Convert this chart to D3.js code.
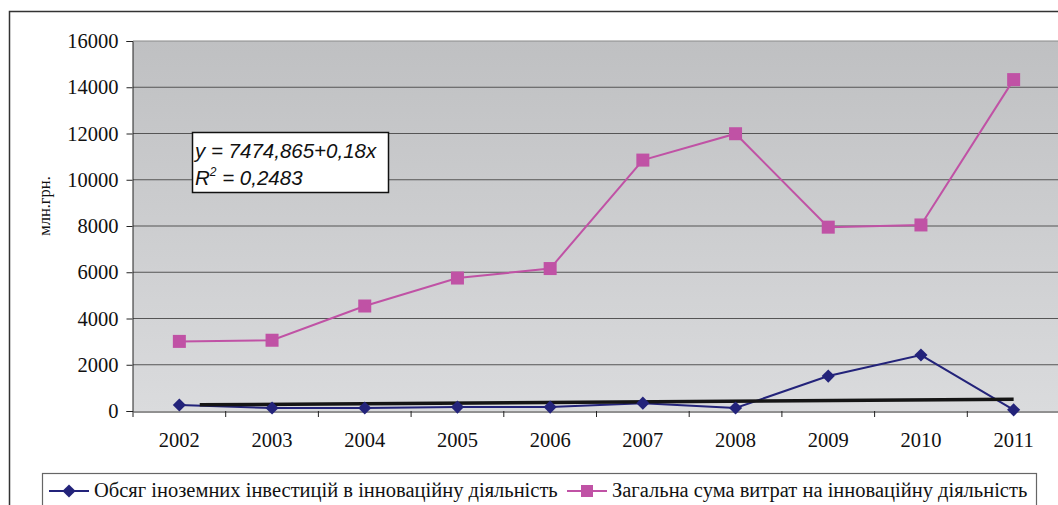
<!DOCTYPE html>
<html>
<head>
<meta charset="utf-8">
<script src="https://cdn.jsdelivr.net/npm/d3@7"></script>
<style>
  body { margin: 0; background: #fff; }
  svg { display: block; }
  .serif { font-family: "Liberation Serif", "Times New Roman", "DejaVu Serif", serif; }
</style>
</head>
<body>
<div id="chart"></div>
<script>
// data
const years = ["2002", "2003", "2004", "2005", "2006", "2007", "2008", "2009", "2010", "2011"];
const foreignInvest = [260, 130, 130, 170, 170, 340, 130, 1510, 2420, 50];
const totalSpend = [3010, 3060, 4540, 5750, 6160, 10850, 11990, 7950, 8045, 14330];
const trendValues = [270, 505]; // trend line end values (2002.2 .. 2011)
const yTicks = [0, 2000, 4000, 6000, 8000, 10000, 12000, 14000, 16000];
const seriesNames = ["Обсяг іноземних інвестицій в інноваційну діяльність",
                     "Загальна сума витрат на інноваційну діяльність"];
const eqLine1 = "y = 7474,865+0,18x";
const eqLine2 = "R";
const eqLine2b = " = 0,2483";

const W = 1058, H = 505;
const plot = {left: 133, top: 41, right: 1060, bottom: 411};

const svg = d3.select("#chart").append("svg")
    .attr("width", W)
    .attr("height", H);

// outer frame
svg.append("rect")
    .attr("x", 9.5).attr("y", 11.5)
    .attr("width", 1100).attr("height", 600)
    .attr("fill", "#fff")
    .attr("stroke", "#333")
    .attr("stroke-width", 1.5);

// gradient plot background
const grad = svg.append("defs").append("linearGradient")
    .attr("id", "bg").attr("x1", 0).attr("y1", 0).attr("x2", 0).attr("y2", 1);
grad.append("stop").attr("offset", "0%").attr("stop-color", "#bfc0c2");
grad.append("stop").attr("offset", "100%").attr("stop-color", "#dadbdd");

svg.append("rect")
    .attr("x", plot.left).attr("y", plot.top)
    .attr("width", plot.right - plot.left).attr("height", plot.bottom - plot.top)
    .attr("fill", "url(#bg)");

const x = d3.scaleBand()
    .domain(years)
    .range([plot.left, plot.right]);

const y = d3.scaleLinear()
    .domain([0, 16000])
    .range([plot.bottom, plot.top]);

const cx = d => x(d) + x.bandwidth() / 2;

// gridlines
svg.append("g")
    .selectAll("line")
    .data(yTicks.filter(t => t > 0))
    .join("line")
    .attr("x1", plot.left).attr("x2", plot.right)
    .attr("y1", d => y(d)).attr("y2", d => y(d))
    .attr("stroke", d => d === 16000 ? "#8a8a8a" : "#555")
    .attr("stroke-width", 1.2);

// y axis
const yAxis = svg.append("g")
    .attr("transform", `translate(${plot.left - 0.5},0)`)
    .call(d3.axisLeft(y).tickValues(yTicks).tickSize(6).tickPadding(8).tickFormat(d3.format("d")));
yAxis.attr("font-family", null).attr("font-size", null);
yAxis.select(".domain").attr("stroke", "#222");
yAxis.selectAll(".tick line").attr("stroke", "#222");
yAxis.selectAll("text")
    .attr("class", "serif")
    .style("font-size", "20.5px")
    .attr("fill", "#111");

// x axis
const xAxis = svg.append("g")
    .attr("transform", `translate(0,${plot.bottom + 0.5})`)
    .call(d3.axisBottom(x).tickSize(0).tickPadding(21));
xAxis.attr("font-family", null).attr("font-size", null);
xAxis.select(".domain").attr("stroke", "#222");
xAxis.selectAll("text")
    .attr("class", "serif")
    .style("font-size", "20.5px")
    .attr("fill", "#111");
// category boundary ticks
svg.append("g")
    .selectAll("line")
    .data(years)
    .join("line")
    .attr("x1", d => x(d)).attr("x2", d => x(d))
    .attr("y1", plot.bottom).attr("y2", plot.bottom + 6)
    .attr("stroke", "#222");

// y axis title
svg.append("text")
    .attr("class", "serif")
    .attr("transform", `translate(50,${(plot.top + plot.bottom) / 2 - 20}) rotate(-90)`)
    .attr("text-anchor", "middle")
    .style("font-size", "16.5px")
    .attr("fill", "#111")
    .text("млн.грн.");

const line = d3.line()
    .x((d, i) => cx(years[i]))
    .y(d => y(d));

const blue = "#23237a", pink = "#c052a5";

// pink series
svg.append("path")
    .datum(totalSpend)
    .attr("d", line)
    .attr("fill", "none")
    .attr("stroke", pink)
    .attr("stroke-width", 2);
svg.append("g")
    .selectAll("rect")
    .data(totalSpend)
    .join("rect")
    .attr("x", (d, i) => cx(years[i]) - 6.5)
    .attr("y", d => y(d) - 6.5)
    .attr("width", 13).attr("height", 13)
    .attr("fill", pink);

// blue series
svg.append("path")
    .datum(foreignInvest)
    .attr("d", line)
    .attr("fill", "none")
    .attr("stroke", blue)
    .attr("stroke-width", 2);

// trend line
const trendX0 = cx(years[0]) + x.bandwidth() * 0.22;
const trendX1 = cx(years[years.length - 1]);
svg.append("line")
    .attr("x1", trendX0).attr("y1", y(trendValues[0]))
    .attr("x2", trendX1).attr("y2", y(trendValues[1]))
    .attr("stroke", "#151515")
    .attr("stroke-width", 3.5);

const diamond = d3.symbol().type(d3.symbolDiamond2).size(110);
svg.append("g")
    .selectAll("path")
    .data(foreignInvest)
    .join("path")
    .attr("d", diamond)
    .attr("transform", (d, i) => `translate(${cx(years[i])},${y(d)})`)
    .attr("fill", blue);

// equation box
const eq = svg.append("g").attr("transform", "translate(192,132)");
eq.append("rect")
    .attr("x", 0.5).attr("y", 0.5)
    .attr("width", 196).attr("height", 60)
    .attr("fill", "#fff")
    .attr("stroke", "#111")
    .attr("stroke-width", 1.5);
const eqText = eq.append("text")
    .style("font-family", "'Liberation Sans', Arial, sans-serif")
    .style("font-style", "italic")
    .style("font-size", "20.5px")
    .attr("fill", "#111");
eqText.append("tspan").attr("x", 3).attr("y", 26).text(eqLine1);
eqText.append("tspan").attr("x", 3).attr("y", 53).text(eqLine2);
eqText.append("tspan").attr("dy", -9).style("font-size", "12px").text("2");
eqText.append("tspan").attr("dy", 9).text(eqLine2b);

// legend
const legend = svg.append("g");
legend.append("rect")
    .attr("x", 42.5).attr("y", 473.5)
    .attr("width", 994).attr("height", 40)
    .attr("fill", "#fff")
    .attr("stroke", "#666")
    .attr("stroke-width", 1.2);

const legendItems = [
    {name: seriesNames[0], color: blue, x0: 49, marker: "diamond"},
    {name: seriesNames[1], color: pink, x0: 567, marker: "square"}
];
legendItems.forEach(it => {
    const g = legend.append("g").attr("transform", `translate(${it.x0},491)`);
    g.append("line").attr("x1", 0).attr("x2", 40).attr("stroke", it.color).attr("stroke-width", 2);
    if (it.marker === "diamond") {
        g.append("path").attr("d", diamond).attr("transform", "translate(20,0)").attr("fill", it.color);
    } else {
        g.append("rect").attr("x", 14).attr("y", -6).attr("width", 12).attr("height", 12).attr("fill", it.color);
    }
    g.append("text")
        .attr("class", "serif")
        .attr("x", 45).attr("y", 6)
        .style("font-size", "20.5px")
        .attr("fill", "#111")
        .text(it.name);
});
</script>
</body>
</html>
